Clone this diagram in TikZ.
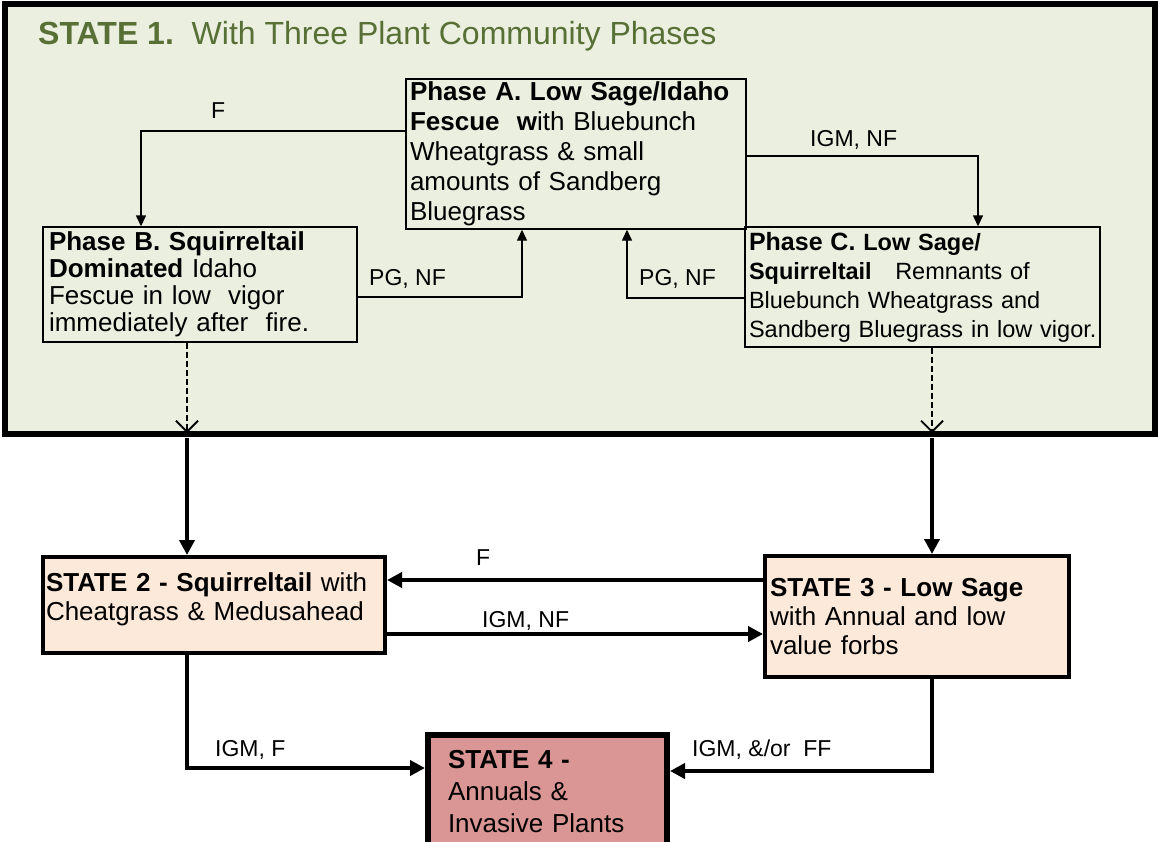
\documentclass[tikz,border=0pt]{standalone}
\usepackage{fontspec}
\setmainfont{Liberation Sans}
\usetikzlibrary{arrows.meta}
\definecolor{bgone}{HTML}{EBEFDF}
\definecolor{peach}{HTML}{FDE9D9}
\definecolor{rose}{HTML}{D99694}
\definecolor{olivetitle}{HTML}{587035}
\begin{document}
\begin{tikzpicture}[x=1pt,y=-1pt,
  phasebox/.style={draw, line width=1.4pt, inner xsep=4pt, inner ysep=0pt, align=left},
  statebox/.style={draw, line width=4pt, fill=peach, inner xsep=4pt, inner ysep=0pt, align=left},
  thinarrow/.style={line width=1.4pt, -{Triangle[length=11pt,width=10pt]}},
  thickarrow/.style={line width=3.8pt, -{Triangle[length=15pt,width=15pt]}},
  dasharrow/.style={line width=1.8pt, dash pattern=on 6pt off 3pt, -{Straight Barb[length=11pt,width=22pt]}},
  lbl/.style={font=\fontsize{23}{27}\selectfont, inner sep=0pt, anchor=base west},
]
\path[use as bounding box] (0,0) rectangle (1158,841);
\fill[white] (0,0) rectangle (1158,841);

% State 1 container
\node[draw, line width=6pt, fill=bgone, minimum width=1150pt, minimum height=430pt, inner sep=0pt] (s1) at (580,219) {};
\node[font=\fontsize{32}{36}\selectfont, text=olivetitle, anchor=base west, inner sep=0pt] (title) at (38,44)
  {\textbf{STATE 1.}\ \ With Three Plant Community Phases};

% Phases
\node[phasebox, text width=332pt, minimum height=150pt, font=\fontsize{26}{30}\selectfont] (pa) at (576,154)
  {\mbox{\textbf{Phase A. Low Sage/Idaho}}\\
   \mbox{\textbf{Fescue\ \ w}ith Bluebunch}\\
   \mbox{Wheatgrass \& small}\\
   \mbox{amounts of Sandberg}\\
   Bluegrass};
\node[phasebox, inner xsep=6pt, text width=302pt, minimum height=115pt, font=\fontsize{26}{27}\selectfont] (pb) at (200,284.5)
  {\mbox{\textbf{Phase B. Squirreltail}}\\
   \mbox{\textbf{Dominated} Idaho}\\
   \mbox{Fescue in low\ \ vigor}\\
   \mbox{immediately after\ \ fire.}};
\node[phasebox, text width=347pt, minimum height=120pt, font=\fontsize{23.5}{29}\selectfont] (pc) at (922.5,287)
  {\mbox{\textbf{{\fontsize{25}{29}\selectfont Phase C.} Low Sage/}}\\
   \mbox{\textbf{Squirreltail}\ \ \ Remnants of}\\
   \mbox{Bluebunch Wheatgrass and}\\
   \mbox{Sandberg Bluegrass in low vigor.}};

% States
\node[statebox, inner xsep=3pt, text width=336pt, minimum height=96pt, font=\fontsize{26}{29}\selectfont] (s2) at (214,605)
  {\mbox{\textbf{STATE 2 - Squirreltail} with}\\
   \mbox{Cheatgrass \& Medusahead}\\[-12pt]\mbox{}};
\node[statebox, inner xsep=5pt, text width=294pt, minimum height=121pt, font=\fontsize{26}{29}\selectfont] (s3) at (917,616.5)
  {\mbox{\textbf{STATE 3 - Low Sage}}\\
   \mbox{with Annual and low}\\
   value forbs};
\node[statebox, line width=6pt, fill=rose, inner xsep=20pt, text width=199pt, minimum height=114pt, font=\fontsize{26}{32}\selectfont] (s4) at (547.5,792)
  {\textbf{STATE 4 -}\\
   \mbox{Annuals \&}\\
   \mbox{Invasive Plants}};

% coordinates on State 1 bottom edge
\coordinate (d1) at (187,433);
\coordinate (d2) at (932,433);
\coordinate (u1) at (187,438);
\coordinate (u2) at (932,438);

% connectors inside State 1
\draw[thinarrow] ([yshift=23pt]pa.west) -| ([xshift=-59pt]pb.north);
\draw[thinarrow] ([yshift=-2pt]pa.east) -| ([xshift=55.5pt]pc.north);
\draw[thinarrow] ([yshift=-12.5pt]pb.east) -| ([xshift=-54pt]pa.south);
\draw[thinarrow] ([yshift=-11pt]pc.west) -| ([xshift=51pt]pa.south);

\draw[dasharrow] (pb.south -| d1) -- (d1);
\draw[dasharrow] (pc.south -| d2) -- (d2);

% connectors between states
\draw[thickarrow] (u1) -- (u1 |- s2.north);
\draw[thickarrow] (u2) -- (u2 |- s3.north);
\draw[thickarrow] ([yshift=36.5pt]s3.west) -- ([yshift=36.5pt]s3.west -| s2.east);
\draw[thickarrow] ([yshift=-29pt]s2.east) -- ([yshift=-29pt]s2.east -| s3.west);
\draw[thickarrow] ([xshift=-27pt]s2.south) |- ([yshift=24pt]s4.west);
\draw[thickarrow] ([xshift=15pt]s3.south) |- ([yshift=21pt]s4.east);

% labels
\node[lbl] (lf) at (211,118) {F};
\node[lbl] (lignf) at (810,146) {IGM, NF};
\node[lbl] (lpga) at (369,285) {PG, NF};
\node[lbl] (lpgb) at (639,285) {PG, NF};
\node[lbl] (lfb) at (476,565) {F};
\node[lbl] (lignfb) at (482,627) {IGM, NF};
\node[lbl] (ligf) at (215,756) {IGM, F};
\node[lbl] (liff) at (692,756) {IGM, \&/or\ \ FF};
\end{tikzpicture}
\end{document}
